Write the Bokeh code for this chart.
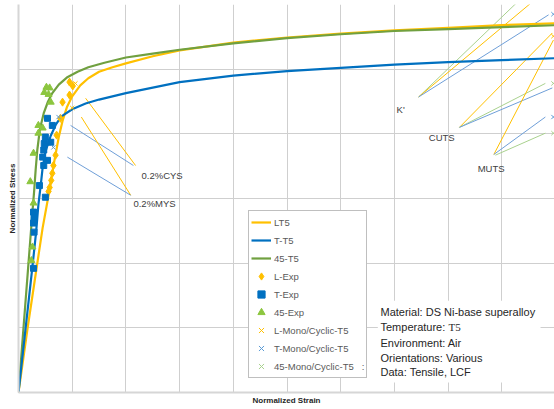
from bokeh.plotting import figure
from bokeh.models import Range1d, FixedTicker, Legend, LegendItem, Label, ColumnDataSource, BoxAnnotation
from bokeh.embed import file_html
from bokeh.resources import INLINE

# ---- grid ticks (no tick labels in the original) ----
x_ticks = [0, 1, 2, 3, 4, 5, 6, 7, 8, 9, 10]
y_ticks = [0, 1, 2, 3, 4, 5, 6]

# ---- model curves (normalized strain / normalized stress) ----
l_strain = [0, 0.17, 0.3, 0.45, 0.56, 0.65, 0.75, 0.82, 0.9, 1.0, 1.15, 1.3, 1.5, 1.75, 2.0, 2.5, 3.0, 4.0, 5.0, 6.0, 7.0, 8.0, 9.0, 10.0]
l_stress = [0, 1.0, 1.72, 2.55, 3.05, 3.5, 3.95, 4.2, 4.41, 4.58, 4.75, 4.86, 4.96, 5.03, 5.09, 5.2, 5.29, 5.41, 5.49, 5.55, 5.6, 5.64, 5.68, 5.71]

t_strain = [0, 0.26, 0.33, 0.37, 0.42, 0.45, 0.5, 0.6, 0.7, 0.8, 1.0, 1.25, 1.5, 2.0, 3.0, 4.0, 5.0, 6.0, 7.0, 8.0, 9.0, 10.0]
t_stress = [0, 1.95, 2.5, 2.9, 3.25, 3.48, 3.72, 3.97, 4.15, 4.27, 4.38, 4.47, 4.53, 4.63, 4.8, 4.9, 4.97, 5.02, 5.07, 5.11, 5.14, 5.17]

g_strain = [0, 0.2, 0.26, 0.29, 0.32, 0.35, 0.4, 0.47, 0.55, 0.63, 0.75, 0.9, 1.1, 1.3, 1.6, 2.0, 2.5, 3.0, 4.0, 5.0, 6.0, 7.0, 8.0, 9.0, 10.0]
g_stress = [0, 2.15, 2.8, 3.1, 3.45, 3.75, 4.08, 4.32, 4.5, 4.63, 4.76, 4.87, 4.96, 5.03, 5.1, 5.18, 5.24, 5.3, 5.4, 5.48, 5.54, 5.59, 5.62, 5.65, 5.68]

# ---- experimental points ----
l_exp_strain = [0.95, 1.01, 0.95, 0.82, 0.78, 0.71, 0.69, 0.65, 0.63, 0.61, 0.58, 0.56]
l_exp_stress = [4.80, 4.74, 4.60, 4.49, 4.24, 3.98, 3.67, 3.51, 3.39, 3.28, 3.17, 3.11]

t_exp_strain = [0.54, 0.63, 0.50, 0.48, 0.60, 0.47, 0.45, 0.54, 0.47, 0.39, 0.50, 0.28, 0.29, 0.28, 0.29, 0.28]
t_exp_stress = [4.24, 4.13, 3.95, 3.85, 3.87, 3.75, 3.64, 3.59, 3.51, 3.20, 3.02, 2.79, 2.71, 2.62, 2.48, 1.92]

g_exp_strain = [0.52, 0.58, 0.48, 0.56, 0.60, 0.37, 0.45, 0.37, 0.28, 0.22, 0.28, 0.26, 0.24]
g_exp_stress = [4.72, 4.71, 4.64, 4.61, 4.49, 4.13, 4.09, 4.01, 3.70, 3.26, 2.93, 2.25, 2.04]

# ---- mono / cyclic property points ----
l_mono_strain = [1.06, 1.0, 9.96]
l_mono_stress = [4.78, 4.40, 5.51]
t_mono_strain = [0.745, 0.65, 9.96, 9.96]
t_mono_stress = [4.26, 3.79, 5.85, 4.26]
g_mono_strain = [9.96, 9.96]
g_mono_stress = [4.78, 4.01]

YEL = "#FFC000"
BLU = "#0070C0"
GRN = "#70A040"

p = figure(width=554, height=409, output_backend="svg", toolbar_location=None,
           x_range=Range1d(0, 9.98), y_range=Range1d(0, 6),
           min_border_left=18, min_border_right=0, min_border_top=4, min_border_bottom=17)
p.outline_line_color = None
p.background_fill_color = "white"

for ax in (p.xaxis[0], p.yaxis[0]):
    ax.ticker = FixedTicker(ticks=[])
    ax.major_tick_out = 0
    ax.major_tick_in = 0
    ax.minor_tick_out = 0
    ax.minor_tick_in = 0
    ax.axis_line_color = "#d6d6d6"
    ax.axis_line_width = 2
    ax.axis_label_text_font = "Liberation Sans"
    ax.axis_label_text_font_style = "bold"
    ax.axis_label_text_font_size = "8px"
    ax.axis_label_text_color = "#262626"
p.xaxis.axis_label = "Normalized Strain"
p.yaxis.axis_label = "Normalized Stress"
p.xaxis.axis_label_standoff = 3
p.yaxis.axis_label_standoff = 2

p.xgrid.ticker = FixedTicker(ticks=x_ticks)
p.ygrid.ticker = FixedTicker(ticks=y_ticks)
p.grid.grid_line_color = "#cfcfcf"
p.grid.grid_line_width = 1

# leader lines for annotations (label anchor -> target)
lead = ColumnDataSource(dict(
    x0=[2.18, 2.14, 2.09, 2.09, 7.45, 7.45, 7.45, 8.21, 8.21, 8.21, 8.85, 8.85, 8.88],
    y0=[3.51, 3.51, 3.05, 3.05, 4.57, 4.57, 4.57, 4.10, 4.10, 4.10, 3.68, 3.68, 3.67],
    x1=[1.25, 0.97, 1.17, 0.91, 9.33, 9.61, 9.87, 9.94, 9.81, 9.94, 9.96, 9.81, 9.81],
    y1=[4.55, 4.13, 4.26, 3.64, 6.07, 6.07, 5.84, 5.56, 4.78, 4.71, 5.45, 4.26, 4.01],
    c=["#FFC000", "#6F9FD8", "#FFC000", "#6F9FD8", "#A9D18E", "#FFC000", "#6F9FD8",
       "#FFC000", "#A9D18E", "#6F9FD8", "#FFC000", "#6F9FD8", "#A9D18E"],
))
p.segment("x0", "y0", "x1", "y1", source=lead, line_color="c", line_width=1)

r_l = p.line(l_strain, l_stress, line_color=YEL, line_width=2.2)
r_g = p.line(g_strain, g_stress, line_color=GRN, line_width=2.2)
r_t = p.line(t_strain, t_stress, line_color=BLU, line_width=2.2)

r_le = p.scatter(l_exp_strain, l_exp_stress, marker="diamond", size=8, color=YEL)
r_te = p.scatter(t_exp_strain, t_exp_stress, marker="square", size=6, color=BLU)
r_ge = p.scatter(g_exp_strain, g_exp_stress, marker="triangle", size=7, color="#8CC63F")

r_lm = p.scatter(l_mono_strain, l_mono_stress, marker="x", size=6, line_color="#FFC000", line_width=1)
r_tm = p.scatter(t_mono_strain, t_mono_stress, marker="x", size=6, line_color="#5B9BD5", line_width=1)
r_gm = p.scatter(g_mono_strain, g_mono_stress, marker="x", size=6, line_color="#A9D18E", line_width=1)

legend = Legend(items=[
    LegendItem(label="LT5", renderers=[r_l]),
    LegendItem(label="T-T5", renderers=[r_t]),
    LegendItem(label="45-T5", renderers=[r_g]),
    LegendItem(label="L-Exp", renderers=[r_le]),
    LegendItem(label="T-Exp", renderers=[r_te]),
    LegendItem(label="45-Exp", renderers=[r_ge]),
    LegendItem(label="L-Mono/Cyclic-T5", renderers=[r_lm]),
    LegendItem(label="T-Mono/Cyclic-T5", renderers=[r_tm]),
    LegendItem(label="45-Mono/Cyclic-T5   :", renderers=[r_gm]),
], location=(230, 14), orientation="vertical")
legend.border_line_color = "#808080"
legend.border_line_width = 1
legend.background_fill_color = "white"
legend.background_fill_alpha = 1
legend.padding = 2
legend.margin = 0
legend.spacing = 0
legend.glyph_width = 20
legend.glyph_height = 18
legend.label_height = 18
legend.label_standoff = 3
legend.label_text_font = "Liberation Sans"
legend.label_text_font_size = "9.5px"
legend.label_text_color = "#595959"
p.add_layout(legend, "center")

# white background of the info text box
p.add_layout(BoxAnnotation(left=6.69, right=9.72, bottom=0.155, top=1.42,
                           fill_color="white", fill_alpha=1, line_color=None))

def add_label(x, y, text, size="9.5px", font="Liberation Sans", color="#404040", xoff=0):
    p.add_layout(Label(x=x, y=y, text=text, text_font=font, text_font_size=size,
                       text_color=color, text_baseline="middle", text_align="left",
                       x_offset=xoff))

add_label(2.29, 3.36, "0.2%CYS")
add_label(2.14, 2.93, "0.2%MYS")
add_label(7.04, 4.37, "K'")
add_label(7.64, 3.95, "CUTS")
add_label(8.55, 3.47, "MUTS")

info_x = 6.74
add_label(info_x, 1.24, "Material: DS Ni-base superalloy", size="11px", color="#262626")
add_label(info_x, 1.01, "Temperature:", size="11px", color="#262626")
add_label(info_x, 1.01, "T5", size="11px", font="Liberation Serif", color="#262626", xoff=68)
add_label(info_x, 0.77, "Environment: Air", size="11px", color="#262626")
add_label(info_x, 0.54, "Orientations: Various", size="11px", color="#262626")
add_label(info_x, 0.31, "Data: Tensile, LCF", size="11px", color="#262626")

open("out.html", "w").write(file_html(p, INLINE))
